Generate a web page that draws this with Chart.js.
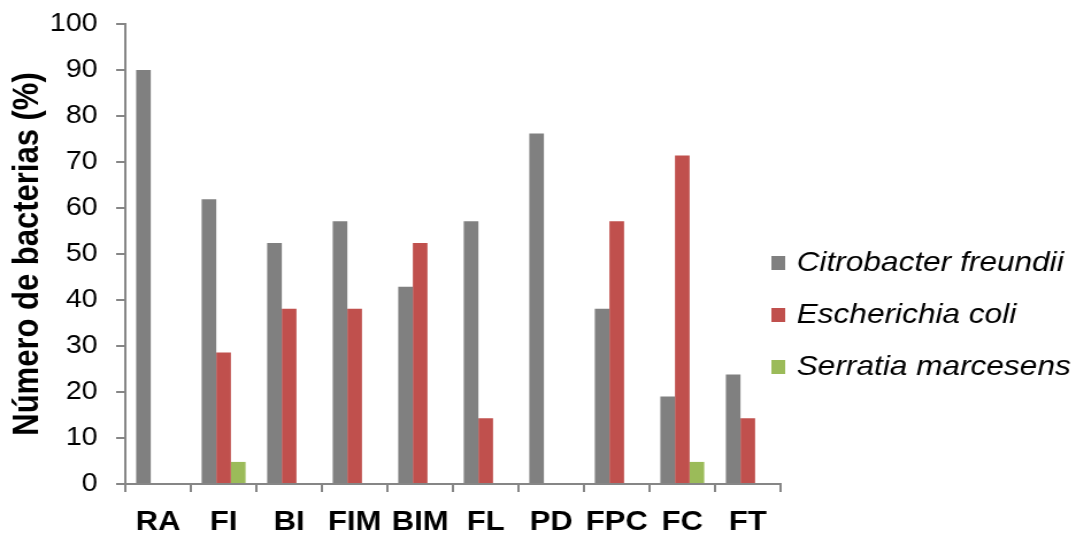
<!DOCTYPE html>
<html>
<head>
<meta charset="utf-8">
<script src="https://cdn.jsdelivr.net/npm/chart.js@4.4.0/dist/chart.umd.min.js"></script>
<style>
  html, body { margin: 0; padding: 0; background: #fff; overflow: hidden; }
</style>
</head>
<body>
<!-- drawing surface laid out narrower, then widened to the page width -->
<canvas id="c" width="936" height="535" style="display:block;width:1076px;height:535px"></canvas>
<script>
// Sample groups and share of each bacterial species (%)
const categories = ['RA', 'FI', 'BI', 'FIM', 'BIM', 'FL', 'PD', 'FPC', 'FC', 'FT'];
const citrobacterFreundii = [90, 61.9, 52.4, 57.1, 42.9, 57.1, 76.2, 38.1, 19.0, 23.8];
const escherichiaColi     = [0, 28.6, 38.1, 38.1, 52.4, 14.3, 0, 57.1, 71.4, 14.3];
const serratiaMarcesens   = [0, 4.8, 0, 0, 0, 0, 0, 0, 4.8, 0];
const seriesNames = ['Citrobacter freundii', 'Escherichia coli', 'Serratia marcesens'];
const yTickValues = [0, 10, 20, 30, 40, 50, 60, 70, 80, 90, 100];

const FONT = '"Liberation Sans", Arial, sans-serif';
const AXIS_GREY = '#868686';

// Legend listed to the right of the plot, one entry per species
const sideLegend = {
  id: 'sideLegend',
  afterDraw(chart) {
    const ctx = chart.ctx;
    const area = chart.chartArea;
    const x0 = area.right - 8;
    const yMid = (area.top + area.bottom) / 2 + 61;
    const rowGap = 52;
    ctx.save();
    ctx.font = 'italic 27.5px ' + FONT;
    ctx.textBaseline = 'middle';
    ctx.textAlign = 'left';
    chart.data.datasets.forEach((ds, i) => {
      const y = yMid + (i - 1) * rowGap;
      ctx.fillStyle = ds.backgroundColor;
      ctx.fillRect(x0, y - 7, 12, 14);
      ctx.fillStyle = '#000';
      ctx.fillText(ds.label, x0 + 22, y);
    });
    ctx.restore();
  }
};

new Chart(document.getElementById('c'), {
  type: 'bar',
  data: {
    labels: categories,
    datasets: [
      { label: seriesNames[0], data: citrobacterFreundii, backgroundColor: '#808080' },
      { label: seriesNames[1], data: escherichiaColi, backgroundColor: '#C0504D' },
      { label: seriesNames[2], data: serratiaMarcesens, backgroundColor: '#9BBB59' }
    ]
  },
  options: {
    responsive: false,
    animation: false,
    devicePixelRatio: 1,
    categoryPercentage: 0.67,
    barPercentage: 1.0,
    layout: { padding: { top: 24, right: 257, bottom: 0, left: 0 } },
    plugins: {
      legend: { display: false },
      tooltip: { enabled: false }
    },
    scales: {
      x: {
        offset: true,
        grid: {
          offset: true,
          drawOnChartArea: false,
          drawTicks: true,
          tickLength: 8,
          color: AXIS_GREY,
          lineWidth: 2
        },
        border: { color: AXIS_GREY, width: 2 },
        ticks: {
          color: '#000',
          font: { family: FONT, size: 27, weight: 'bold' },
          padding: 14,
          maxRotation: 0,
          autoSkip: false
        },
        afterFit(scale) {
          scale.height = 51;
          scale.paddingLeft = 0;
          scale.paddingRight = 0;
        }
      },
      y: {
        min: 0,
        max: 100,
        afterBuildTicks(scale) { scale.ticks = yTickValues.map(v => ({ value: v })); },
        grid: {
          drawOnChartArea: false,
          drawTicks: true,
          tickLength: 8,
          color: AXIS_GREY,
          lineWidth: 2
        },
        border: { color: AXIS_GREY, width: 2 },
        ticks: {
          color: '#000',
          font: { family: FONT, size: 25 },
          padding: 16
        },
        title: {
          display: true,
          text: 'Número de bacterias (%)',
          color: '#000',
          font: { family: FONT, size: 31, weight: 'bold' },
          padding: { top: 6, bottom: 0 }
        },
        afterFit(scale) {
          scale.width = 109;
          scale.paddingTop = 0;
          scale.paddingBottom = 0;
        }
      }
    }
  },
  plugins: [sideLegend]
});
</script>
</body>
</html>
